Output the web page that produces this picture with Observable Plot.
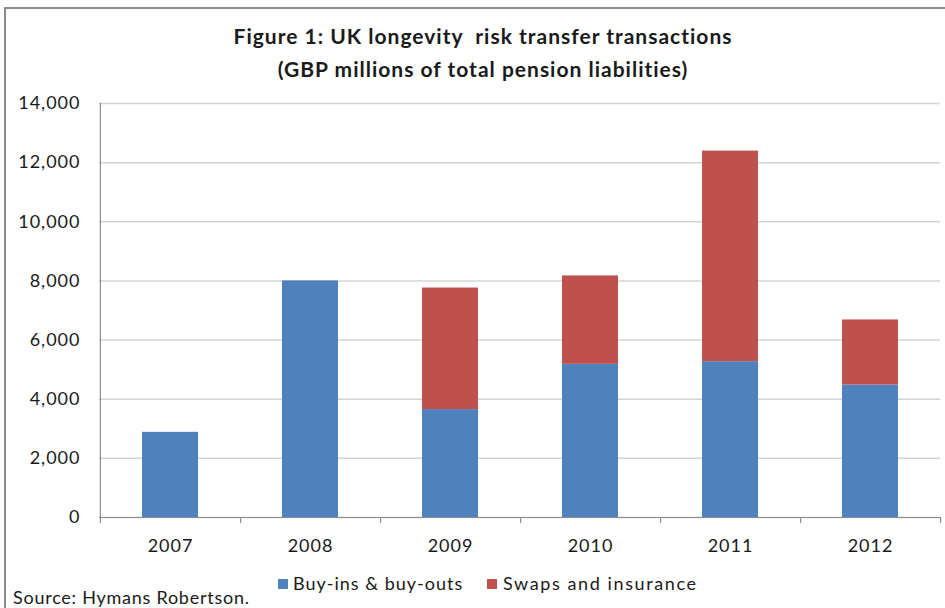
<!DOCTYPE html>
<html>
<head>
<meta charset="utf-8">
<script src="https://cdn.jsdelivr.net/npm/d3@7"></script>
<script src="https://cdn.jsdelivr.net/npm/@observablehq/plot@0.6"></script>
<style>
  html, body { margin: 0; padding: 0; background: #fff; }
  #wrap { position: relative; width: 945px; height: 608px; overflow: hidden; font-family: Lato, "Open Sans", sans-serif; color: #1a1a1a; }
  #border { position: absolute; left: 4px; top: 7px; width: 960px; height: 620px; border-left: 2px solid #8c8c8c; border-top: 2px solid #8c8c8c; }
  .title { position: absolute; left: 483px; transform: translateX(-50%); white-space: pre; font-weight: bold; font-size: 21px; letter-spacing: 1px; }
  #chart { position: absolute; left: 0; top: 90px; }
  .leg { position: absolute; font-size: 18px; letter-spacing: 1px; white-space: nowrap; }
  .sw { position: absolute; width: 10px; height: 10px; }
  #source { position: absolute; left: 13px; top: 586px; font-size: 18px; letter-spacing: 0.75px; white-space: nowrap; }
</style>
</head>
<body>
<div id="wrap">
  <div id="border"></div>
  <div class="title" style="top:23px">Figure 1: UK longevity  risk transfer transactions</div>
  <div class="title" style="top:56px">(GBP millions of total pension liabilities)</div>
  <div id="chart"></div>
  <div class="sw" style="left:278px; top:579px; background:#4f81bd"></div>
  <div class="leg" style="left:293px; top:572px">Buy-ins &amp; buy-outs</div>
  <div class="sw" style="left:487px; top:579px; background:#c0504d"></div>
  <div class="leg" style="left:503px; top:572px; letter-spacing:1.6px">Swaps and insurance</div>
  <div id="source">Source: Hymans Robertson.</div>
</div>
<script>
const years = ["2007", "2008", "2009", "2010", "2011", "2012"];
const buyIns = [2880, 8000, 3650, 5180, 5270, 4480];
const swaps = [0, 0, 4110, 2990, 7120, 2200];
const seriesNames = ["Buy-ins & buy-outs", "Swaps and insurance"];
const seriesColors = ["#4f81bd", "#c0504d"];
const yTicks = [0, 2000, 4000, 6000, 8000, 10000, 12000, 14000];

const rows = [];
years.forEach((y, i) => {
  rows.push({year: y, series: seriesNames[0], value: buyIns[i]});
  rows.push({year: y, series: seriesNames[1], value: swaps[i]});
});

const W = 945, mL = 99, mR = 5;
const step = (W - mL - mR) / years.length;
const tickUnits = 6 * 14000 / 414; // ~6px in data units

const chart = Plot.plot({
  width: W,
  height: 472,
  marginLeft: mL,
  marginRight: mR,
  marginTop: 13,
  marginBottom: 45,
  style: {fontFamily: "Lato, 'Open Sans', sans-serif", fontSize: "18px", letterSpacing: "1px", color: "#1a1a1a", background: "transparent"},
  x: {domain: years, paddingInner: 0.6, paddingOuter: 0.3, label: null},
  y: {domain: [0, 14000], label: null},
  color: {domain: seriesNames, range: seriesColors},
  marks: [
    Plot.gridY(yTicks, {stroke: "#d4d4d4", strokeOpacity: 1, strokeWidth: 1.5}),
    Plot.barY(rows, Plot.stackY({x: "year", y: "value", fill: "series", order: seriesNames})),
    Plot.ruleY([0], {stroke: "#8c8c8c", strokeWidth: 1.2}),
    Plot.ruleX([years[0]], {dx: -step / 2, y1: -tickUnits, y2: 14000, stroke: "#8c8c8c", strokeWidth: 1.2}),
    Plot.ruleX(years, {dx: step / 2, y1: -tickUnits, y2: 0, stroke: "#8c8c8c", strokeWidth: 1.2}),
    Plot.ruleY(yTicks, {x1: years[0], x2: years[0], dx: -step / 2, insetLeft: -6, stroke: "#8c8c8c", strokeWidth: 1.2}),
    Plot.axisY(yTicks, {tickSize: 0, tickPadding: 19, tickFormat: d3.format(","), fontSize: 18}),
    Plot.axisX({tickSize: 0, tickPadding: 22, fontSize: 18})
  ]
});
document.getElementById("chart").appendChild(chart);
</script>
</body>
</html>
